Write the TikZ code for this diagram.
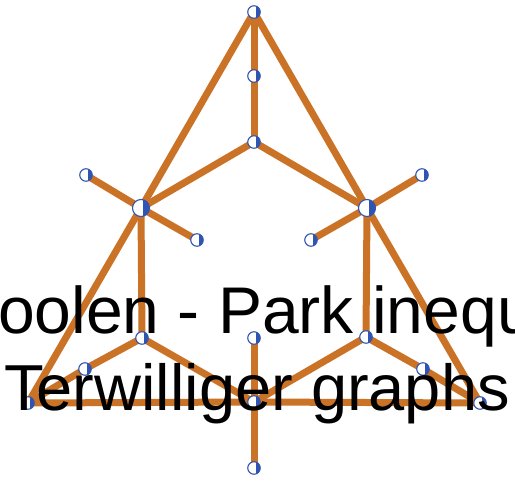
\documentclass[tikz,border=0pt]{standalone}
\usepackage{fontspec}
\setmainfont{Liberation Sans}
\usepackage{xcolor}
\usetikzlibrary{backgrounds}
\definecolor{edgeorange}{RGB}{202,114,38}
\definecolor{vtxblue}{RGB}{48,84,178}

\tikzset{
    vtx/.style={circle,draw=vtxblue,fill=white,line width=1.1pt,
        minimum size=12.5pt,inner sep=0pt,
        path picture={\fill[vtxblue]
            ([xshift=1.5pt]path picture bounding box.north)
            rectangle (path picture bounding box.south east);}},
    hubvtx/.style={vtx,minimum size=17pt},
    link/.style={draw=edgeorange,line width=7pt},
    title/.style={anchor=base west,inner sep=0pt,
        font=\fontsize{65}{80}\selectfont},
}

\begin{document}
\begin{tikzpicture}[x=1pt,y=-1pt]
    \useasboundingbox (0,0) rectangle (515,482);
    \clip (0,0) rectangle (515,482);

    % upper part
    \node[vtx] (top) at (254,12) {};
    \node[vtx] (mid) at (254,76) {};
    \node[vtx] (cen) at (254,142) {};
    \node[hubvtx] (hubl) at (141,208) {};
    \node[hubvtx] (hubr) at (367,208) {};
    \node[vtx] (leafla) at (86,175) {};
    \node[vtx] (leaflb) at (197,240) {};
    \node[vtx] (leafra) at (422,175) {};
    \node[vtx] (leafrb) at (311,240) {};

    % lower part
    \node[vtx] (botl) at (28,403) {};
    \node[vtx] (botr) at (480,403) {};
    \node[vtx] (botc) at (254,402) {};
    \node[vtx] (stemup) at (254,338) {};
    \node[vtx] (stemdn) at (254,468) {};
    \node[vtx] (lowl) at (142,338) {};
    \node[vtx] (lowla) at (85,369) {};
    \node[vtx] (lowr) at (366,337) {};
    \node[vtx] (lowra) at (423,369) {};

    \begin{pgfonlayer}{background}
    \foreach \a/\b in {top/mid,mid/cen,cen/hubl,cen/hubr,top/hubl,top/hubr,
        hubl/leafla,hubl/leaflb,hubr/leafra,hubr/leafrb,
        hubl/botl,hubr/botr,hubl/lowl,hubr/lowr,
        lowl/lowla,lowla/botl,lowl/botc,lowr/lowra,lowra/botr,lowr/botc,
        botl/botc,botc/botr,stemup/botc,botc/stemdn} {
        \path[link] (\a.center) -- (\b.center);
    }
    \end{pgfonlayer}

    % title lines
    \node[title,font=\fontsize{66}{80}\selectfont] (titlea) at (-2,333)
        {oolen - Park inequ};
    \node[title] (titleb) at (4,410) {Terwilliger graphs};
\end{tikzpicture}
\end{document}
